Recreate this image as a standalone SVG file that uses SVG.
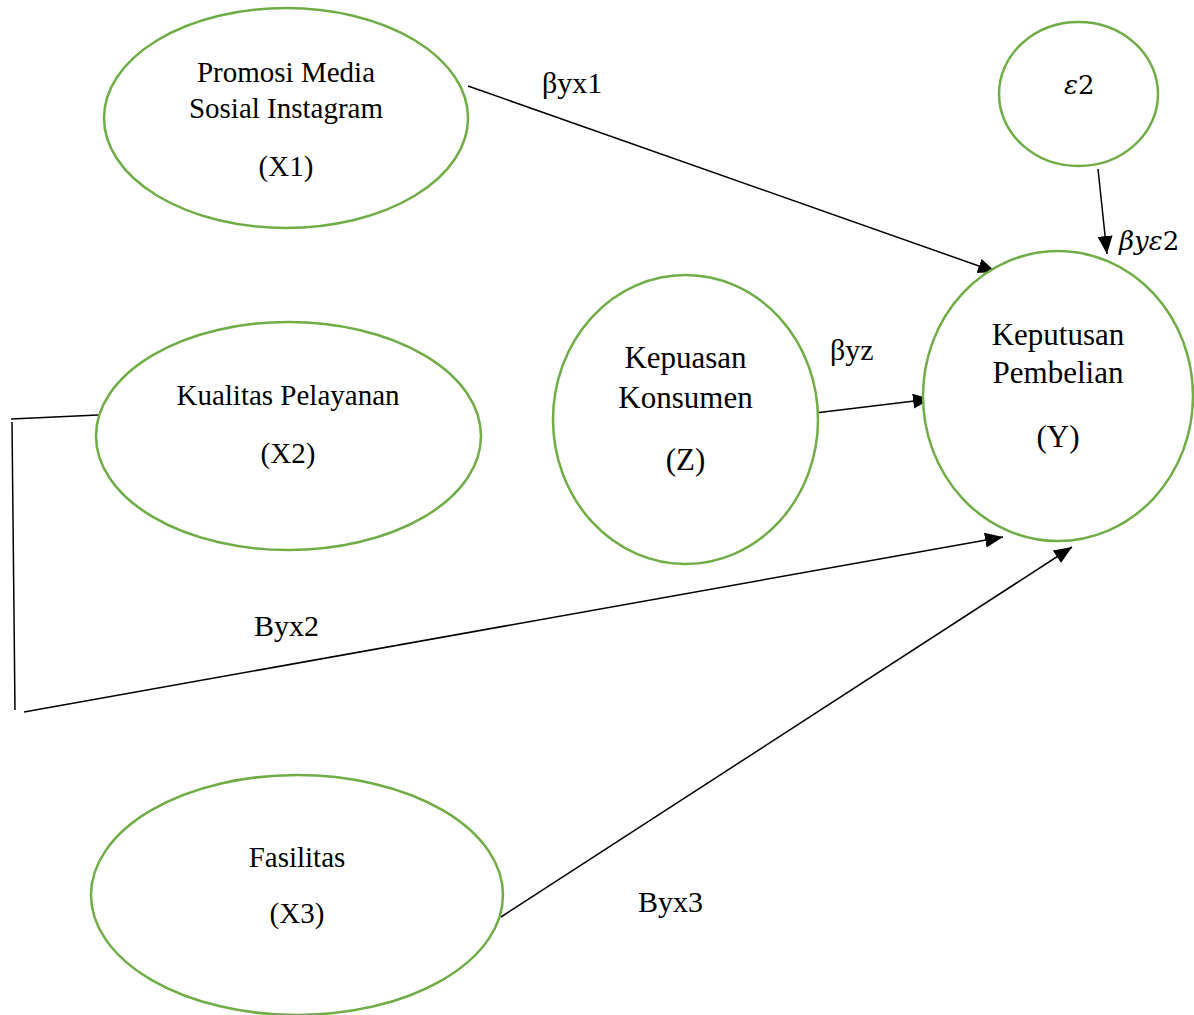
<svg xmlns="http://www.w3.org/2000/svg" width="1194" height="1015" viewBox="0 0 1194 1015">
<defs>
<marker id="ah" markerUnits="userSpaceOnUse" markerWidth="20" markerHeight="16" refX="18" refY="7.5" orient="auto">
<path d="M0,0 L18,7.5 L0,15 Z" fill="#000"/>
</marker>
<style>
.node{fill:#fff;stroke:#70AD47;stroke-width:2.5}
.t{font-family:"Liberation Serif","Times New Roman",serif;font-size:29px;fill:#000;text-anchor:middle}
.tb{font-size:31px}
.lbl{font-family:"Liberation Serif","Times New Roman",serif;font-size:30px;fill:#000}
.m{font-family:"DejaVu Serif","Liberation Serif",serif;font-size:26px;fill:#000}
.c{fill:none;stroke:#000;stroke-width:1.5}
</style>
</defs>
<rect width="1194" height="1015" fill="#fff"/>
<g id="connectors">
<polyline class="c" points="98,415 11,419"/>
<line class="c" x1="12" y1="422" x2="15" y2="710"/>
<line class="c" x1="24" y1="712" x2="1003" y2="537" marker-end="url(#ah)"/>
<line class="c" x1="468" y1="86" x2="996" y2="272" marker-end="url(#ah)"/>
<line class="c" x1="1098" y1="169" x2="1107" y2="254" marker-end="url(#ah)"/>
<line class="c" x1="815" y1="413" x2="931" y2="399" marker-end="url(#ah)"/>
<line class="c" x1="501" y1="917" x2="1072" y2="547" marker-end="url(#ah)"/>
<text class="lbl" x="542" y="93">βyx1</text>
<text class="lbl" x="830" y="360">βyz</text>
<text class="lbl" x="254" y="636">Byx2</text>
<text class="lbl" x="638" y="912">Byx3</text>
<text class="m" x="1119" y="250"><tspan font-style="italic">βyε</tspan>2</text>
</g>
<g id="x1">
<ellipse class="node" cx="286" cy="118" rx="182" ry="110"/>
<text class="t" x="286" y="82">Promosi Media</text>
<text class="t" x="286" y="118">Sosial Instagram</text>
<text class="t" x="286" y="176">(X1)</text>
</g>
<g id="x2">
<ellipse class="node" cx="288.5" cy="436" rx="192.5" ry="114"/>
<text class="t" x="288" y="405">Kualitas Pelayanan</text>
<text class="t" x="288" y="463">(X2)</text>
</g>
<g id="x3">
<ellipse class="node" cx="297" cy="895" rx="206" ry="120"/>
<text class="t" x="297" y="867">Fasilitas</text>
<text class="t" x="297" y="923">(X3)</text>
</g>
<g id="z">
<ellipse class="node" cx="685.5" cy="419.5" rx="132.5" ry="144.5"/>
<text class="t tb" x="685.5" y="368">Kepuasan</text>
<text class="t tb" x="685.5" y="408">Konsumen</text>
<text class="t tb" x="685.5" y="470">(Z)</text>
</g>
<g id="y">
<ellipse class="node" cx="1058" cy="396" rx="135" ry="145"/>
<text class="t tb" x="1058" y="345">Keputusan</text>
<text class="t tb" x="1058" y="383">Pembelian</text>
<text class="t tb" x="1058" y="447">(Y)</text>
</g>
<g id="e2">
<ellipse class="node" cx="1078.5" cy="94" rx="79.5" ry="72"/>
<text class="m" x="1064" y="94"><tspan font-style="italic">ε</tspan>2</text>
</g>
</svg>
